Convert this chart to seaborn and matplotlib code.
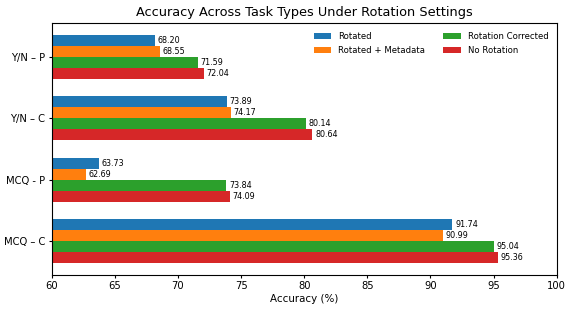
import numpy as np
import pandas as pd
import matplotlib
matplotlib.use("Agg")
import matplotlib.pyplot as plt
import seaborn as sns

# data
tasks = ["Y/N – P", "Y/N – C", "MCQ - P", "MCQ – C"]
settings = ["Rotated", "Rotated + Metadata", "Rotation Corrected", "No Rotation"]
rotated = [68.20, 73.89, 63.73, 91.74]
rotated_meta = [68.55, 74.17, 62.69, 90.99]
rotation_corrected = [71.59, 80.14, 73.84, 95.04]
no_rotation = [72.04, 80.64, 74.09, 95.36]

colors = ["#1f77b4", "#ff7f0e", "#2ca02c", "#d62728"]

rows = []
for setting, vals in zip(settings, [rotated, rotated_meta, rotation_corrected, no_rotation]):
    for task, v in zip(tasks, vals):
        rows.append({"Task": task, "Setting": setting, "Accuracy": v})
df = pd.DataFrame(rows)

fig, ax = plt.subplots(figsize=(5.74, 3.09), dpi=100)

sns.barplot(data=df, y="Task", x="Accuracy", hue="Setting",
            order=tasks, hue_order=settings, palette=colors,
            orient="h", width=0.72, errorbar=None, ax=ax,
            saturation=1, linewidth=0)

for cont in ax.containers:
    ax.bar_label(cont, fmt="%.2f", padding=2, fontsize=5.8)

ax.set_xlim(60, 100)
ax.set_ylim(3.55, -0.55)
ax.set_xticks(np.arange(60, 101, 5))
ax.set_title("Accuracy Across Task Types Under Rotation Settings", fontsize=9.3, pad=5)
ax.set_xlabel("Accuracy (%)", fontsize=7.4, labelpad=2)
ax.set_ylabel("")
ax.tick_params(labelsize=7.2, length=2.5, pad=2)
ax.legend(loc="upper right", ncol=2, frameon=False, fontsize=6.1,
          handlelength=2.1, handletextpad=0.8, columnspacing=2.1,
          borderaxespad=0.6, labelspacing=0.6)

fig.subplots_adjust(left=0.09, right=0.97, top=0.925, bottom=0.11)
fig.savefig("out.png", dpi=100)
